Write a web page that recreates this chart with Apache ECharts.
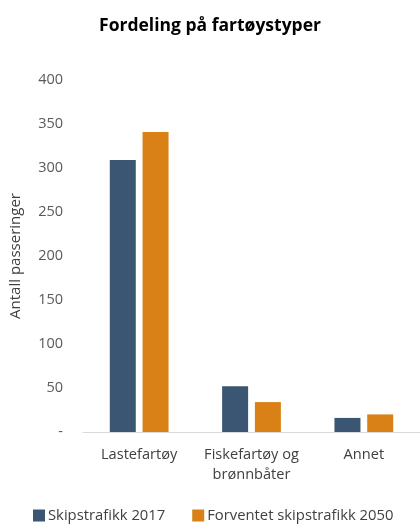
<!DOCTYPE html>
<html><head><meta charset="utf-8">
<script src="https://cdn.jsdelivr.net/npm/echarts@6/dist/echarts.min.js"></script>
<style>html,body{margin:0;padding:0;background:#fff}#c{width:420px;height:525px}</style>
</head><body><div id="c"></div>
<script>
const categories = ['Lastefartøy', 'Fiskefartøy og\nbrønnbåter', 'Annet'];
const series2017 = [309, 52, 16];
const series2050 = [341, 34, 20];
const seriesNames = ['Skipstrafikk 2017', 'Forventet skipstrafikk 2050'];
const titleText = 'Fordeling på fartøystyper';
const yAxisName = 'Antall passeringer';

const FONT = 'Open Sans';
const chart = echarts.init(document.getElementById('c'), null, {renderer: 'canvas'});
chart.setOption({
  animation: false,
  backgroundColor: '#fff',
  title: {
    text: titleText, left: 'center', top: 12,
    textStyle: {fontFamily: FONT, fontSize: 17.5, fontWeight: 'bold', color: '#000'}
  },
  legend: {
    bottom: -3, left: 28, itemWidth: 12, itemHeight: 12, itemGap: 27,
    icon: 'rect',
    textStyle: {fontFamily: FONT, fontSize: 14.8, color: '#404040', padding: [0,0,0,-2]}
  },
  grid: {left: 83, right: -5, top: 80, bottom: 93},
  xAxis: {
    type: 'category', data: categories,
    axisLine: {lineStyle: {color: '#d9d9d9', width: 1}},
    axisTick: {show: false},
    axisLabel: {interval: 0, hideOverlap: false, fontFamily: FONT, fontSize: 14.6, color: '#404040', margin: 13, lineHeight: 20}
  },
  yAxis: {
    type: 'value', min: 0, max: 400, interval: 50,
    name: yAxisName, nameLocation: 'middle', nameGap: 60, nameRotate: 90,
    nameTextStyle: {fontFamily: FONT, fontSize: 15, color: '#404040'},
    axisLine: {show: false}, axisTick: {show: false},
    splitLine: {show: false},
    axisLabel: {fontFamily: FONT, fontSize: 14.5, color: '#595959', margin: 20,
      formatter: v => v === 0 ? '-' : String(v)}
  },
  series: [
    {name: seriesNames[0], type: 'bar', data: series2017, barWidth: 26, barGap: '26%',
     itemStyle: {color: '#3b5673'}},
    {name: seriesNames[1], type: 'bar', data: series2050, barWidth: 26,
     itemStyle: {color: '#d98016'}}
  ]
});
</script></body></html>
